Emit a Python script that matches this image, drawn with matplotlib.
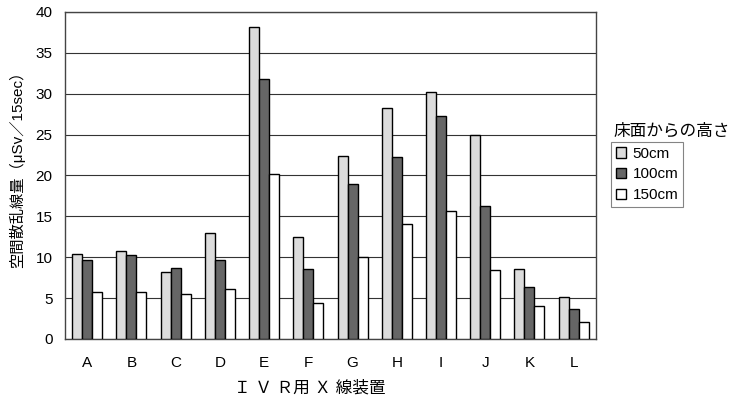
import matplotlib
matplotlib.use("Agg")
import matplotlib.pyplot as plt
import numpy as np

plt.rcParams['font.family'] = ['Liberation Sans', 'Noto Sans CJK JP']

categories = ['A', 'B', 'C', 'D', 'E', 'F', 'G', 'H', 'I', 'J', 'K', 'L']
series_names = ['50cm', '100cm', '150cm']
v50 = [10.4, 10.7, 8.2, 12.9, 38.2, 12.5, 22.4, 28.3, 30.2, 24.9, 8.6, 5.1]
v100 = [9.7, 10.3, 8.7, 9.6, 31.8, 8.5, 18.9, 22.3, 27.3, 16.3, 6.3, 3.7]
v150 = [5.7, 5.7, 5.5, 6.1, 20.2, 4.4, 10.0, 14.0, 15.6, 8.4, 4.0, 2.1]
yticks = [0, 5, 10, 15, 20, 25, 30, 35, 40]

colors = ['#dcdcdc', '#666666', '#ffffff']

fig = plt.figure(figsize=(7.31, 4.0), dpi=100)
ax = fig.add_axes([0.089, 0.1525, 0.726, 0.818])

x = np.arange(len(categories))
w = 0.226
for i, (vals, c, name) in enumerate(zip([v50, v100, v150], colors, series_names)):
    ax.bar(x + (i - 1) * w, vals, width=w, color=c, edgecolor='black',
           linewidth=1.0, label=name, zorder=3)

ax.set_xlim(-0.5, len(categories) - 0.5)
ax.set_ylim(0, 40)
ax.set_yticks(yticks)
ax.yaxis.grid(True, color='#333333', linewidth=0.8, zorder=0)
ax.set_xticks(x)
ax.set_xticklabels(categories)
ax.tick_params(axis='both', length=0, labelsize=11, pad=9)
ax.tick_params(axis='x', pad=12)
for s in ax.spines.values():
    s.set_color('#444444')
    s.set_linewidth(1.0)

ax.set_ylabel('空間散乱線量（μSv／15sec）', fontsize=11)
ax.yaxis.set_label_coords(-0.075, 0.53)
ax.set_xlabel('Ｉ Ｖ Ｒ用 Ｘ 線装置', fontsize=12)
ax.xaxis.set_label_coords(0.462, -0.125)

fig.text(613 / 731, 1 - 131 / 400, '床面からの高さ', fontsize=12,
         ha='left', va='center')

leg = ax.legend(loc='upper left', bbox_to_anchor=(611 / 731, 1 - 142 / 400),
                bbox_transform=fig.transFigure, fontsize=11,
                frameon=True, fancybox=False, edgecolor='#666666',
                handlelength=0.7, handleheight=0.7, handletextpad=0.4,
                borderpad=0.3, labelspacing=0.45, borderaxespad=0)
leg.get_frame().set_linewidth(0.8)

fig.savefig('out.png', dpi=100, facecolor='white')
